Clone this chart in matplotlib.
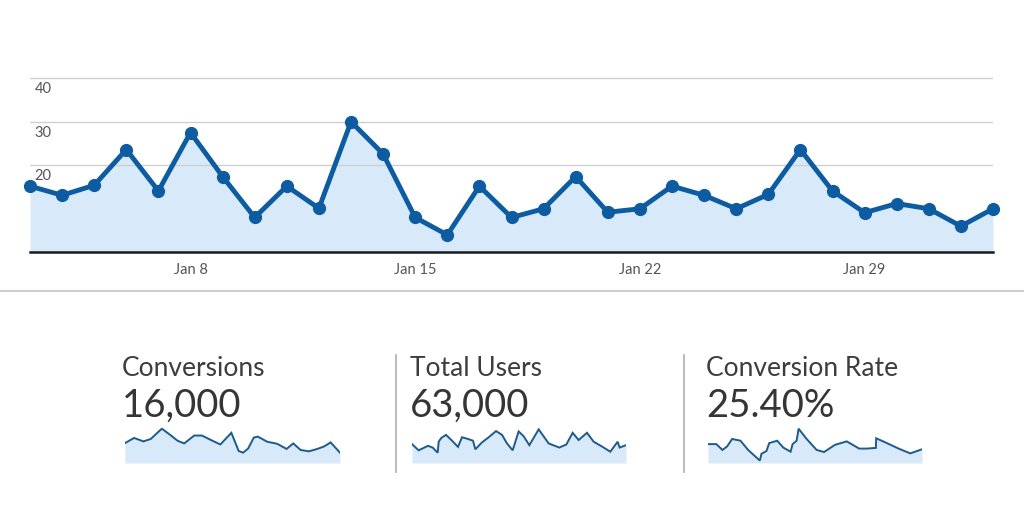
import matplotlib
matplotlib.use("Agg")
import matplotlib.pyplot as plt
import matplotlib.dates as mdates
import matplotlib.transforms as mtransforms
import pandas as pd
import numpy as np

plt.rcParams['font.family'] = ['Lato', 'DejaVu Sans']

# ---------------- data ----------------
dates = pd.date_range("2024-01-03", "2024-02-02", freq="D")
daily_values = [15.2, 13.1, 15.4, 23.6, 14.1, 27.5, 17.4, 8.0, 15.2, 10.1,
                30.0, 22.6, 8.0, 4.0, 15.2, 8.0, 10.0, 17.4, 9.2, 10.0,
                15.2, 13.1, 10.0, 13.3, 23.6, 14.1, 9.1, 11.2, 10.0, 6.0, 10.0]
y_ticks = [20, 30, 40]
x_tick_dates = ["2024-01-08", "2024-01-15", "2024-01-22", "2024-01-29"]

kpi_titles = ["Conversions", "Total Users", "Conversion Rate"]
kpi_values = ["16,000", "63,000", "25.40%"]

conv_x = [0, 1.26, 2.56, 3.58, 5.12, 6.28, 7.30, 8.23, 9.63, 10.70, 11.95, 13.26,
          14.79, 15.81, 16.42, 17.12, 17.91, 18.47, 19.77, 21.16, 22.47, 23.40,
          24.42, 25.58, 26.74, 27.67, 28.60, 29.9]
conv_y = [58, 73, 63, 70, 100, 82, 65, 57, 80, 80, 67, 54, 88, 35, 30, 42, 74, 77,
          62, 56, 41, 57, 38, 34, 41, 48, 60, 30]

users_x = [0, 0.93, 2.24, 2.90, 3.60, 3.74, 4.11, 4.77, 5.61, 6.45, 7.01, 7.85,
           8.55, 8.88, 9.81, 10.75, 11.78, 12.62, 13.32, 14.11, 14.95, 15.65,
           16.45, 17.76, 19.16, 20.65, 21.64, 22.52, 23.36, 24.53, 25.47, 26.64,
           27.80, 28.83, 29.11, 30.0]
users_y = [55, 37, 50, 45, 30, 62, 73, 82, 65, 47, 75, 70, 65, 40, 60, 75, 93, 82,
           57, 37, 92, 78, 52, 98, 57, 45, 54, 88, 67, 88, 62, 48, 33, 62, 45, 52]

rate_x = [0, 1.17, 2.02, 2.67, 3.38, 4.55, 5.63, 7.27, 7.50, 8.20, 8.58, 9.70,
          10.55, 11.58, 11.86, 12.42, 12.70, 13.83, 15.23, 16.27, 17.81, 19.45,
          21.19, 22.27, 23.53, 23.58, 25.08, 26.72, 28.36, 30.0]
rate_y = [55, 55, 38, 48, 70, 65, 38, 7, 27, 35, 58, 65, 45, 33, 55, 65, 100, 70,
          38, 32, 53, 63, 42, 42, 44, 72, 58, 42, 28, 40]

spark_x = [conv_x, users_x, rate_x]
spark_y = [conv_y, users_y, rate_y]

# ---------------- style ----------------
W, H = 1024, 524
LINE = "#0d5ca2"
FILL = "#d8eaf9"
SPARK_LINE = "#1d5a8e"
GRID = "#cfcfcf"

fig = plt.figure(figsize=(W / 100, H / 100), dpi=100)
fig.patch.set_facecolor("white")


def px_axes(left, top, right, bottom):
    return fig.add_axes([left / W, 1 - bottom / H, (right - left) / W, (bottom - top) / H])


# ---------------- main chart ----------------
ax = px_axes(30, 76, 993, 252.3)
ax.fill_between(dates, daily_values, 0, color=FILL, lw=0, zorder=1)
ax.plot(dates, daily_values, color=LINE, lw=3.5, marker="o", ms=8.5,
        solid_joinstyle="round", clip_on=False, zorder=3)
ax.set_xlim(dates[0], dates[-1])
ax.set_ylim(0, 40.5)
ax.set_yticks(y_ticks)
ax.yaxis.grid(True, color=GRID, lw=1.0, zorder=0)
ax.tick_params(axis="y", left=False, labelleft=False)
trans = mtransforms.blended_transform_factory(ax.transAxes, ax.transData)
offset = mtransforms.ScaledTranslation(0, -3 / 72, fig.dpi_scale_trans)
for v in y_ticks:
    ax.text(0.005, v, str(v), transform=trans + offset, ha="left", va="top",
            fontsize=10.5, color="#555555")
ax.set_xticks(pd.to_datetime(x_tick_dates))
ax.xaxis.set_major_formatter(mdates.DateFormatter("%b %-d"))
ax.tick_params(axis="x", length=0, pad=8, labelsize=10.5, labelcolor="#555555")
for s in ["top", "left", "right"]:
    ax.spines[s].set_visible(False)
ax.spines["bottom"].set_color("#1a1a1a")
ax.spines["bottom"].set_linewidth(1.8)
ax.spines["bottom"].set_zorder(4)
ax.set_facecolor("none")

# separator line
fig.add_artist(plt.Line2D([0, 1], [1 - 291 / H, 1 - 291 / H], transform=fig.transFigure,
                          color="#c4c4c4", lw=1.2))

# ---------------- KPI panels ----------------
text_left = [122, 410, 706]
spark_left = [125, 412, 708]
spark_right = [340, 626, 922]
for i in range(3):
    fig.text(text_left[i] / W, 1 - 369 / H, kpi_titles[i], fontsize=19,
             color="#3d3d3d", ha="left", va="center")
    fig.text(text_left[i] / W, 1 - 406 / H, kpi_values[i], fontsize=27.5,
             color="#353535", ha="left", va="center")
    sax = px_axes(spark_left[i], 428, spark_right[i], 463)
    sax.fill_between(spark_x[i], spark_y[i], 0, color=FILL, lw=0)
    sax.plot(spark_x[i], spark_y[i], color=SPARK_LINE, lw=1.4, solid_joinstyle="miter")
    sax.set_xlim(min(spark_x[i]), max(spark_x[i]))
    sax.set_ylim(0, 102)
    sax.axis("off")

for xv in [396, 684]:
    fig.add_artist(plt.Line2D([xv / W, xv / W], [1 - 355 / H, 1 - 472 / H],
                              transform=fig.transFigure, color="#b5b5b5", lw=1.3))

fig.savefig("out.png", dpi=100, facecolor="white")
